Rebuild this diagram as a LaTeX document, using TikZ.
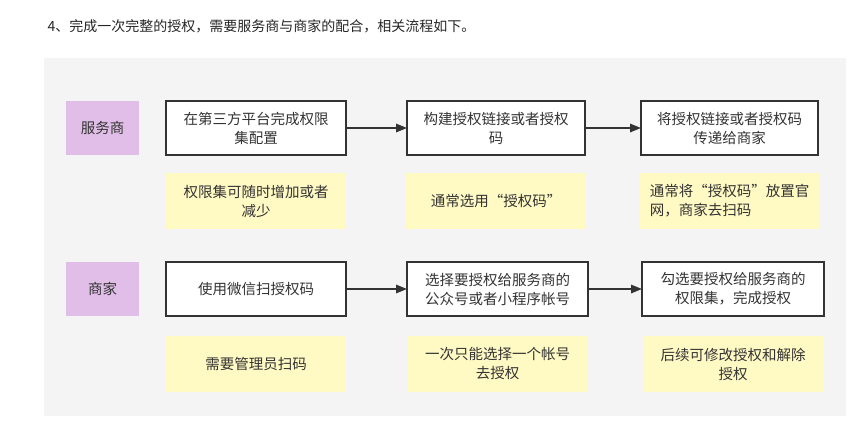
\documentclass[tikz,border=0pt]{standalone}
\usepackage{fontspec}
\setmainfont{Noto Sans CJK SC}
\usetikzlibrary{arrows.meta, positioning}
\definecolor{panelgray}{HTML}{F4F4F4}
\definecolor{rolepurple}{HTML}{E1BEE7}
\definecolor{noteyellow}{HTML}{FFF9C4}
\definecolor{textgray}{HTML}{333333}

\begin{document}
\begin{tikzpicture}[
x = 1pt, y = -1pt, % one unit per pixel, y runs down
> = {Triangle[length=11pt, width=8.5pt]}, % arrow head style
font = \fontsize{14.5}{19}\selectfont,
text = textgray
]
\tikzset{
role/.style = {fill = rolepurple, minimum width = 73pt, minimum height = 54pt, inner sep = 0pt, outer sep = 0pt},
stepbox/.style = {draw = textgray, line width = 1.8pt, fill = white, minimum width = 180pt, minimum height = 54pt, inner sep = 0pt, outer sep = 0pt, align = center},
note/.style = {fill = noteyellow, minimum width = 180pt, minimum height = 56pt, inner sep = 0pt, outer sep = 0pt, align = center},
flow/.style = {->, draw = textgray, line width = 1.5pt}
}
\useasboundingbox (0,0) rectangle (855,434);
\node[anchor = west, font = \fontsize{14}{16}\selectfont, text = black!85] (title) at (44,26) {4、完成一次完整的授权，需要服务商与商家的配合，相关流程如下。};
\fill[panelgray] (44,58) rectangle (846,416);
% service provider row
\node[role] (vendor) at (102.5,128) {服务商};
\node[stepbox] (s1) [right = 27pt of vendor] {在第三方平台完成权限\\集配置};
\node[stepbox, minimum width = 178pt] (s2) [right = 61pt of s1] {构建授权链接或者授权\\码};
\node[stepbox, minimum width = 177pt] (s3) [right = 56pt of s2] {将授权链接或者授权码\\传递给商家};
\node[note] (n1) [below = 18pt of s1] {权限集可随时增加或者\\减少};
\node[note] (n2) [below = 18pt of s2] {通常选用“授权码”};
\node[note, align = left] (n3) [below = 18pt of s3] {通常将“授权码”放置官\\网，商家去扫码};
% merchant row
\node[role] (merchant) [below = 107pt of vendor] {商家};
\node[stepbox] (m1) [right = 27pt of merchant] {使用微信扫授权码};
\node[stepbox, minimum width = 181pt] (m2) [right = 61pt of m1] {选择要授权给服务商的\\公众号或者小程序帐号};
\node[stepbox, minimum width = 182pt] (m3) [right = 54pt of m2] {勾选要授权给服务商的\\权限集，完成授权};
\node[note] (k1) [below = 20pt of m1] {需要管理员扫码};
\node[note] (k2) [below = 20pt of m2] {一次只能选择一个帐号\\去授权};
\node[note] (k3) [below = 20pt of m3] {后续可修改授权和解除\\授权};
\draw[flow] (s1) -- (s2);
\draw[flow] (s2) -- (s3);
\draw[flow] (m1) -- (m2);
\draw[flow] (m2) -- (m3);
\end{tikzpicture}
\end{document}
